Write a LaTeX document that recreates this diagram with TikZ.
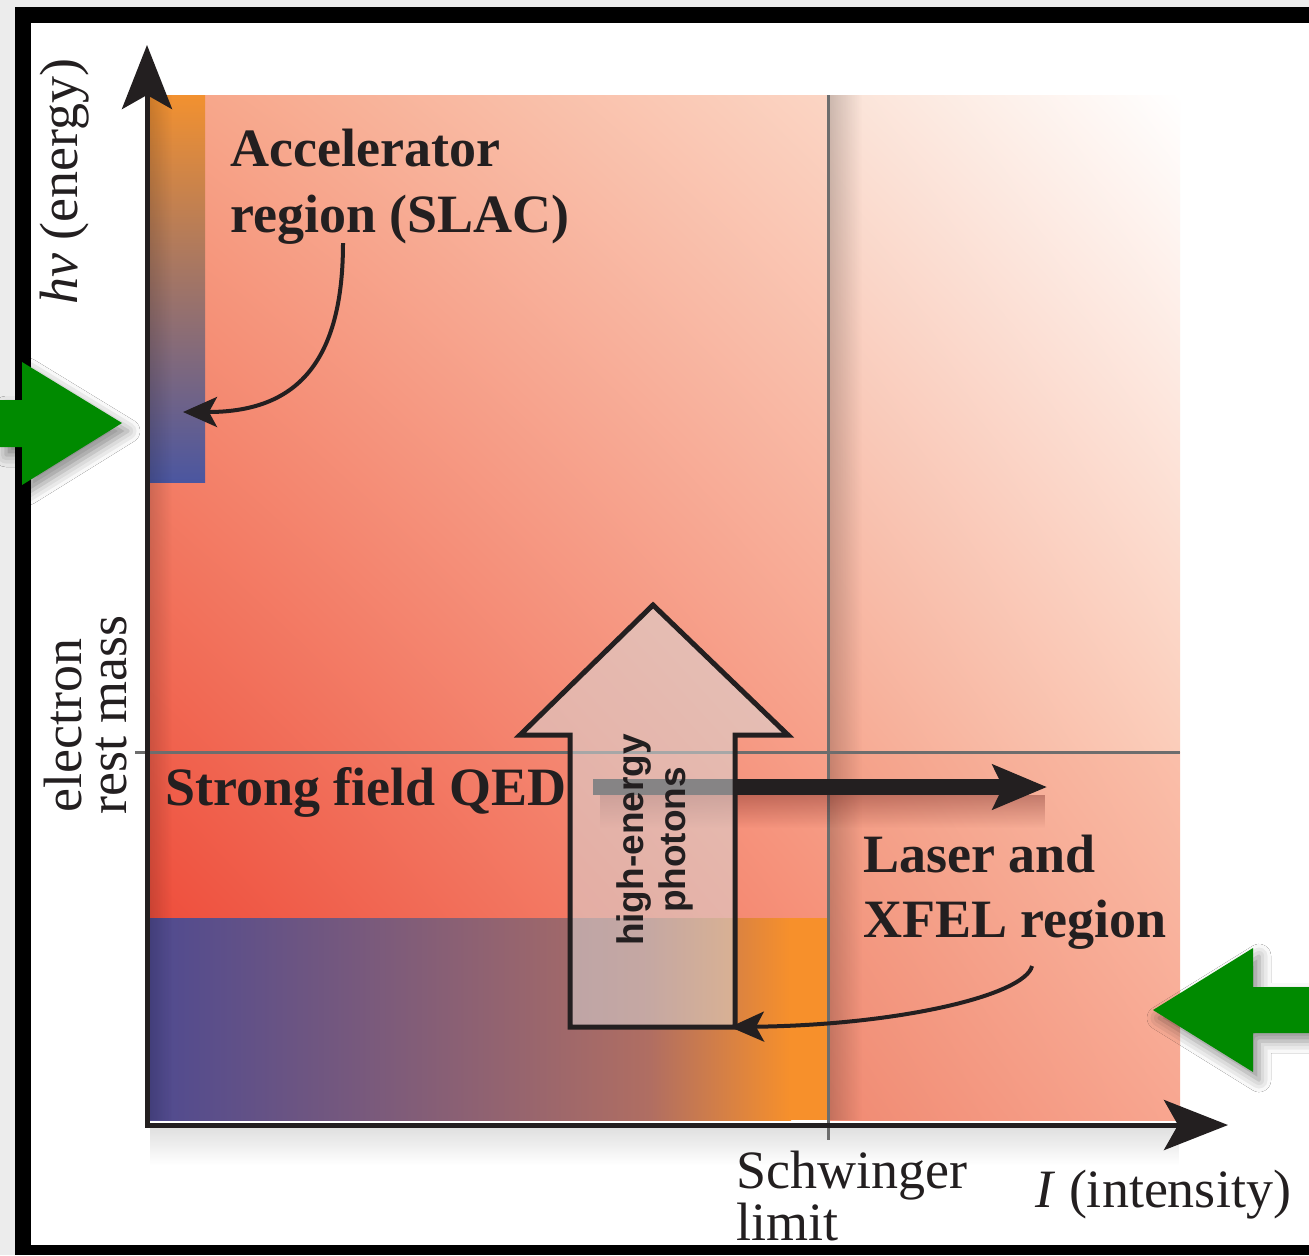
\documentclass[tikz,border=0pt]{standalone}
\usepackage{fontspec}
\setmainfont{Liberation Serif}
\newfontfamily\labsans{Liberation Sans}
\usetikzlibrary{arrows.meta,shadows.blur,fadings,shadings}
\definecolor{ink}{HTML}{231F20}
\definecolor{framegray}{HTML}{ECECEC}
\definecolor{gridgray}{HTML}{6D6D6D}
\definecolor{garrow}{HTML}{008A00}
\definecolor{bagray}{HTML}{D8D8D8}
\definecolor{lUL}{HTML}{F7A386}
\definecolor{lUR}{HTML}{FBD5C4}
\definecolor{lLL}{HTML}{EE4E3C}
\definecolor{lLR}{HTML}{F6937B}
\definecolor{rUL}{HTML}{FBE2D6}
\definecolor{rLL}{HTML}{F6A891}
\definecolor{rLR}{HTML}{FBCDBA}
\definecolor{qUL}{HTML}{F4A088}
\definecolor{qUR}{HTML}{FABFAA}
\definecolor{qLL}{HTML}{F08A72}
\definecolor{qLR}{HTML}{F8A690}
\definecolor{accTop}{HTML}{F29130}
\definecolor{accMid}{HTML}{9C6A74}
\definecolor{accBot}{HTML}{4B56A0}
\definecolor{lzA}{HTML}{4F4A90}
\definecolor{lzM}{HTML}{B06E62}
\definecolor{lzB}{HTML}{F7902B}
\tikzset{
  reglab/.style={font=\fontsize{27}{32}\selectfont, text=ink, inner sep=0pt, anchor=base west},
  boldlab/.style={font=\fontsize{27}{32}\selectfont\bfseries, text=ink, inner sep=0pt, anchor=base west},
  photlab/.style={font=\labsans\fontsize{18.5}{21}\selectfont\bfseries, text=ink, inner sep=0pt, align=center},
  gridline/.style={draw=gridgray, line width=1.5pt},
  axisline/.style={draw=ink, line width=2.5pt, -{Stealth[length=32pt,width=25pt,inset=7pt]}},
  curvearrow/.style={draw=ink, line width=2pt, -{Stealth[length=17pt,width=15pt,inset=4pt]}},
  beamarrow/.style={draw=ink, line width=8pt, -{Stealth[length=27pt,width=22pt,inset=5pt]}},
  bigarrow/.style={fill=bagray, fill opacity=0.55, draw=ink, line width=2.5pt, line join=miter},
  greenarrow/.style={fill=garrow, blur shadow={shadow xshift=3pt, shadow yshift=-4pt, shadow blur radius=6pt, shadow opacity=45}},
}
\begin{document}
\begin{tikzpicture}[x=0.5pt,y=-0.5pt]
\useasboundingbox (0,0) rectangle (1309,1255);
\fill[white] (0,0) rectangle (1309,1255);
% frame
\fill[framegray] (0,0) rectangle (1309,7);
\fill[framegray] (0,0) rectangle (15,1255);
\fill[black] (15,7) rectangle (1309,23);
\fill[black] (15,7) rectangle (31,1255);
\fill[black] (15,1245) rectangle (1309,1255);
% regions
\shade[upper left=lUL, upper right=lUR, lower left=lLL, lower right=lLR] (150,95) rectangle (828,918);
\shade[upper left=rUL, upper right=white, lower left=rLL, lower right=rLR] (828,95) rectangle (1180,752);
\shade[upper left=qUL, upper right=qUR, lower left=qLL, lower right=qLR] (828,752) rectangle (1180,1120);
\shade[top color=accTop, middle color=accMid, bottom color=accBot] (150,95) rectangle (205,482);
\shade[left color=lzA, right color=lzM] (150,918) rectangle (651,1120);
\shade[left color=lzM, right color=lzB] (650,918) rectangle (791,1120);
\fill[lzB] (790,918) rectangle (828,1120);
% soft shadows
\fill[black, opacity=.18, path fading=east] (830,95) rectangle (862,1120);
\fill[black, opacity=.15, path fading=east] (150,95) rectangle (172,1120);
\fill[black, opacity=.12, path fading=south] (150,1128) rectangle (1180,1165);
% grid lines
\coordinate (sTop) at (828,95);
\coordinate (sBot) at (828,1140);
\coordinate (mL) at (135,752);
\coordinate (mR) at (1180,752);
\draw[gridline] (sTop) -- (sBot);
\draw[gridline] (mL) -- (mR);
% axes
\coordinate (O) at (147,1125);
\coordinate (Ytip) at (147,45);
\coordinate (Xtip) at (1228,1125);
\draw[axisline] (O) -- (Ytip);
\draw[axisline] (O) -- (Xtip);
\fill[ink] (144.5,1122.5) rectangle (149.5,1127.5);
% strong-field beam
\coordinate (hS) at (593,787);
\coordinate (hE) at (1047,787);
\fill[black!70!red, opacity=.3, path fading=south] (600,795) rectangle (1045,828);
\draw[beamarrow] (hS) -- (hE);
% big hollow arrow
\draw[bigarrow] (570,1027) -- (570,735) -- (520,735) -- (653,605) -- (788,735) -- (735,735) -- (735,1027) -- cycle;
\node[photlab, rotate=90] (phot) at (655,840) {high-energy\\photons};
% labels
\node[boldlab] (acc1) at (230,166) {Accelerator};
\node[boldlab] (acc2) at (230,232) {region (SLAC)};
\node[boldlab] (sfq) at (165,805) {Strong field QED};
\node[boldlab] (las1) at (863,872) {Laser and};
\node[boldlab] (las2) at (863,937) {XFEL region};
\node[reglab, rotate=90] (ylab) at (77,305) {\textit{hν} (energy)};
\node[reglab, rotate=90] (erm1) at (81,813) {electron};
\node[reglab, rotate=90] (erm2) at (126,815) {rest mass};
\node[font=\fontsize{27}{21}\selectfont, text=ink, inner sep=0pt, align=left, anchor=north west] (sch) at (736,1151) {Schwinger\\limit};
\node[reglab] (xlab) at (1035,1207) {\textit{I} (intensity)};
% curved pointers
\coordinate (accS) at (343,243);
\coordinate (accE) at (183,412);
\draw[curvearrow] (accS) .. controls (343,370) and (290,412) .. (accE);
\coordinate (lasS) at (1032,966);
\coordinate (lasE) at (730,1027);
\draw[curvearrow] (lasS) .. controls (1025,995) and (900,1025) .. (lasE);
% green arrows
\fill[greenarrow] (0,400) -- (22,400) -- (22,362) -- (122,423) -- (22,485) -- (22,447) -- (0,447) -- cycle;
\fill[greenarrow] (1309,987) -- (1253,987) -- (1253,948) -- (1153,1010) -- (1253,1072) -- (1253,1033) -- (1309,1033) -- cycle;
\end{tikzpicture}
\end{document}
